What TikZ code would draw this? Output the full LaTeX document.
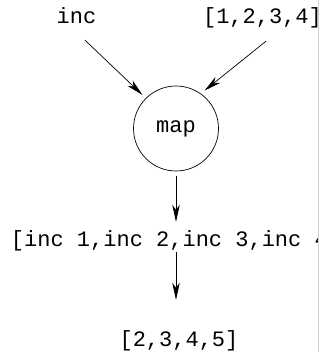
\documentclass[tikz,border=0pt]{standalone}
\usepackage{fontspec}
\usepackage{tikz}
\usetikzlibrary{arrows.meta}
\newfontfamily\monofont{Liberation Mono}

\begin{document}
\begin{tikzpicture}[
    x=1pt, y=-1pt,
    term/.style={font=\monofont\fontsize{22}{26}\selectfont, inner sep=0pt, text height=24pt, text depth=6pt, anchor=base},
    fn/.style={circle, draw, line width=0.7pt, minimum size=85pt, inner sep=0pt, outer sep=5pt, font=\monofont\fontsize{22}{26}\selectfont},
    arrow/.style={-{Stealth[length=17pt, width=7.5pt, inset=5pt]}, line width=0.7pt}
]
    \useasboundingbox (0,0) rectangle (320,352);
    \begin{scope}
    \clip (0,0) rectangle (318,352);

    % Inputs
    \node[term] (inc) at (76.5,24) {inc};
    \node[term] (list) at (262.5,24) {[1,2,3,4]};

    % Function
    \node[fn] (map) at (176,128.5) {map};

    % Results
    \node[term] (mapped) at (176,246) {[inc 1,inc 2,inc 3,inc 4]};
    \node[term] (result) at (179,346) {[2,3,4,5]};

    % Arrows
    \draw[arrow] ([xshift=8.5pt, yshift=-10pt]inc.south) -- (map.135);
    \draw[arrow] ([xshift=3.5pt, yshift=-11pt]list.south) -- (map.53);
    \draw[arrow] (map.south) -- (mapped.north);
    \draw[arrow, shorten >=22pt] (mapped.south) -- (mapped.south |- result.north);
    \end{scope}

    % Edge
    \draw[gray!35, line width=1pt] (318.5,0) -- (318.5,352);
\end{tikzpicture}
\end{document}
